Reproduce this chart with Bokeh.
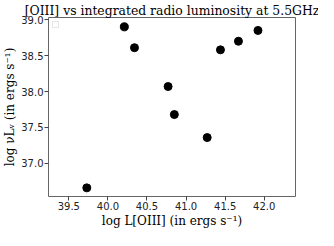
from bokeh.plotting import figure
from bokeh.models import FixedTicker, Range1d, NumeralTickFormatter, Legend, LegendItem
from bokeh.embed import file_html
from bokeh.resources import INLINE

# data
log_L_oiii = [39.73, 40.21, 40.34, 40.77, 40.85, 41.27, 41.44, 41.67, 41.92]
log_nuLnu = [36.66, 38.90, 38.61, 38.07, 37.68, 37.36, 38.58, 38.70, 38.85]
x_ticks = [39.5, 40.0, 40.5, 41.0, 41.5, 42.0]
y_ticks = [37.0, 37.5, 38.0, 38.5, 39.0]
title_text = "[OIII] vs integrated radio luminosity at 5.5GHz"
x_label = "log L[OIII] (in ergs s\u207b\u00b9)"
y_label = "log \u03bdL\u1d65 (in ergs s\u207b\u00b9)"

p = figure(width=318, height=230, output_backend="svg", toolbar_location=None,
           x_range=Range1d(39.24, 42.40), y_range=Range1d(36.54, 39.03),
           title=title_text, min_border_left=43, min_border_right=23,
           min_border_top=12, min_border_bottom=31)

p.title.text_font = "DejaVu Serif"
p.title.text_font_size = "12.4px"
p.title.text_font_style = "normal"
p.title.align = "center"
p.title.standoff = 0
p.title.text_color = "black"

p.scatter(log_L_oiii, log_nuLnu, size=8, color="black")

# empty legend box (as in the reference)
dummy = p.scatter([], [], size=1, fill_alpha=0, line_alpha=0)
legend = Legend(items=[LegendItem(label="", renderers=[dummy])], location="top_left",
                margin=4, padding=2, glyph_width=1, glyph_height=1, label_width=0,
                label_height=0, label_standoff=0, label_text_font_size="1px",
                border_line_color="#d0d0d0", border_line_width=1, spacing=0)
p.add_layout(legend)

p.xgrid.visible = False
p.ygrid.visible = False
p.outline_line_color = "#666666"
p.outline_line_width = 1

p.xaxis.ticker = FixedTicker(ticks=x_ticks)
p.yaxis.ticker = FixedTicker(ticks=y_ticks)
for ax in (p.xaxis[0], p.yaxis[0]):
    ax.formatter = NumeralTickFormatter(format="0.0")
    ax.major_label_text_font = "DejaVu Sans"
    ax.major_label_text_font_size = "10px"
    ax.major_label_text_color = "#222222"
    ax.axis_label_text_font = "DejaVu Serif"
    ax.axis_label_text_font_size = "12px"
    ax.axis_label_text_font_style = "normal"
    ax.axis_label_text_color = "black"
    ax.minor_tick_line_color = None
    ax.major_tick_in = 0
    ax.major_tick_out = 4
    ax.major_tick_line_color = "#444444"
    ax.axis_line_color = None
    ax.major_label_standoff = 1
    ax.axis_label_standoff = 1

p.xaxis.axis_label = x_label
p.yaxis.axis_label = y_label

open("out.html", "w").write(file_html(p, INLINE))
